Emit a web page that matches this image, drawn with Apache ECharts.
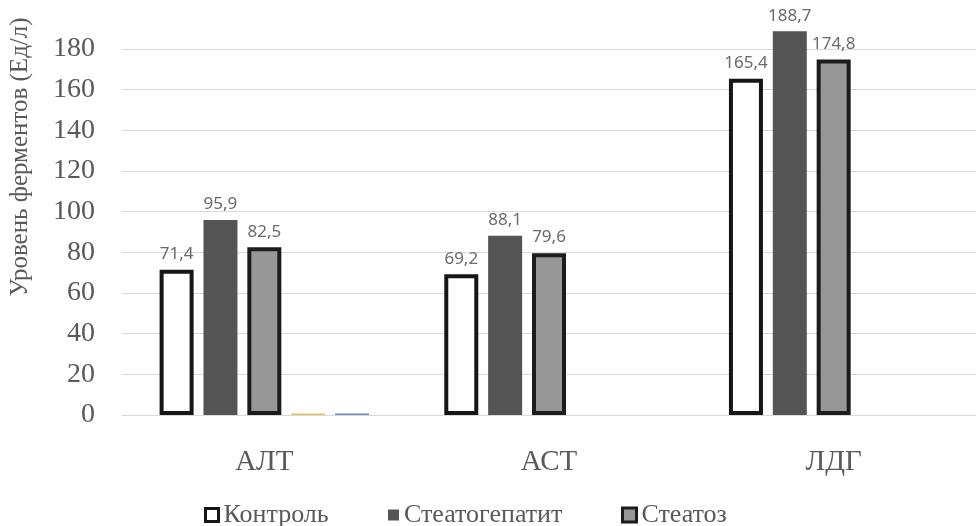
<!DOCTYPE html>
<html>
<head>
<meta charset="utf-8">
<script src="https://cdn.jsdelivr.net/npm/echarts@6/dist/echarts.min.js"></script>
<style>
  html, body { margin: 0; padding: 0; background: #ffffff; }
  #chart { width: 976px; height: 526px; }
</style>
</head>
<body>
<div id="chart"></div>
<script>
// Enzyme levels by group
const categories = ['АЛТ', 'АСТ', 'ЛДГ'];
const seriesNames = ['Контроль', 'Стеатогепатит', 'Стеатоз'];
const control = [71.4, 69.2, 165.4];
const steatohepatitis = [95.9, 88.1, 188.7];
const steatosis = [82.5, 79.6, 174.8];
// two unnamed auxiliary series, only present for АЛТ
const extraA = [0.7, null, null];
const extraB = [0.7, null, null];
const yTicks = [0, 20, 40, 60, 80, 100, 120, 140, 160, 180];
const axisTitle = 'Уровень ферментов (Ед/л)';

const serif = '"Liberation Serif", "DejaVu Serif", serif';
const sans = '"Noto Sans", "Open Sans", sans-serif';
const textGray = '#595959';

const chart = echarts.init(document.getElementById('chart'), null, { renderer: 'canvas' });

const valueLabel = {
  show: true,
  position: 'top',
  distance: 7,
  fontFamily: sans,
  fontSize: 17,
  color: '#6a6a6a',
  formatter: p => p.value.toFixed(1).replace('.', ',')
};

const styles = [
  { color: '#ffffff', borderColor: '#161616', borderWidth: 4 },
  { color: '#545454', borderWidth: 0 },
  { color: '#979797', borderColor: '#1c1c1c', borderWidth: 4 }
];

function legendFor(i, left, size) {
  return {
    left: left,
    top: 497,
    itemWidth: size,
    itemHeight: size,
    icon: 'rect',
    selectedMode: false,
    data: [{ name: seriesNames[i], itemStyle: Object.assign({}, styles[i], { borderWidth: styles[i].borderWidth ? 3 : 0 }) }],
    textStyle: { fontFamily: serif, fontSize: 26, color: textGray }
  };
}

chart.setOption({
  animation: false,
  grid: { left: 122, top: 49, width: 864, height: 366, containLabel: false },
  legend: [legendFor(0, 199, 13), legendFor(1, 383, 11), legendFor(2, 616, 14)],
  graphic: [{
    type: 'text',
    x: 20,
    y: 157,
    rotation: Math.PI / 2,
    style: {
      text: axisTitle,
      fontFamily: serif,
      fontSize: 25,
      fill: textGray,
      textAlign: 'center',
      textVerticalAlign: 'middle'
    }
  }],
  xAxis: {
    type: 'category',
    data: categories,
    axisLine: { show: true, lineStyle: { color: '#d9d9d9', width: 1 } },
    axisTick: { show: false },
    axisLabel: { fontFamily: serif, fontSize: 29, color: textGray, margin: 33 }
  },
  yAxis: {
    type: 'value',
    min: yTicks[0],
    max: yTicks[yTicks.length - 1],
    interval: yTicks[1] - yTicks[0],
    axisLine: { show: false },
    axisTick: { show: false },
    axisLabel: { fontFamily: serif, fontSize: 28, color: textGray, margin: 27 },
    splitLine: { lineStyle: { color: '#d9d9d9', width: 1 } }
  },
  series: [
    { name: seriesNames[0], type: 'bar', data: control, barWidth: 34, barGap: '29%', clip: false,
      itemStyle: styles[0], label: valueLabel },
    { name: seriesNames[1], type: 'bar', data: steatohepatitis, barWidth: 34, barGap: '29%', clip: false,
      itemStyle: styles[1], label: valueLabel },
    { name: seriesNames[2], type: 'bar', data: steatosis, barWidth: 34, barGap: '29%', clip: false,
      itemStyle: styles[2], label: valueLabel },
    { name: 'extra-1', type: 'bar', data: extraA, barWidth: 34, barGap: '29%',
      itemStyle: { color: '#e2c65a' } },
    { name: 'extra-2', type: 'bar', data: extraB, barWidth: 34, barGap: '29%',
      itemStyle: { color: '#6e8bbf' } }
  ]
});
</script>
</body>
</html>
